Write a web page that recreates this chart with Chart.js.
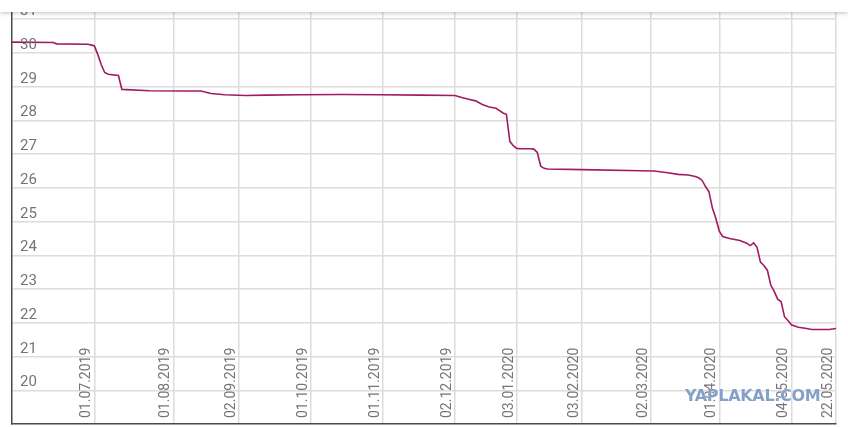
<!DOCTYPE html>
<html>
<head>
<meta charset="utf-8">
<script src="https://cdn.jsdelivr.net/npm/chart.js@4"></script>
<style>
  body { margin: 0; background: #fff; }
  #wrap { position: relative; width: 848px; height: 427px; overflow: hidden; }
  #topbar { position: absolute; left: 0; top: 0; width: 848px; height: 12px; background: #fff;
            box-shadow: 0 1px 4px rgba(0,0,0,0.25); }
  #mark { position: absolute; left: 685px; top: 386px; font: bold 16px "DejaVu Sans", sans-serif;
          color: rgba(110,145,190,0.85); letter-spacing: -0.3px;
          text-shadow: 0 0 1px #fff, 0 0 1px #fff; }
</style>
</head>
<body>
<div id="wrap">
  <canvas id="myChart" width="848" height="427"></canvas>
  <div id="topbar"></div>
  <div id="mark">YAPLAKAL.COM</div>
</div>
<script>
// trading-day index of each tick and its date
const tickIdx = [24, 47, 66, 87, 108, 129, 147, 166, 186, 206, 227, 240];
const tickLabels = ['01.07.2019', '01.08.2019', '02.09.2019', '01.10.2019', '01.11.2019', '02.12.2019',
                    '03.01.2020', '03.02.2020', '02.03.2020', '01.04.2020', '04.05.2020', '22.05.2020'];

// series: day index -> value
const dayIdx = [0, 12, 13, 22, 23, 24, 25, 26, 27, 28, 31, 32, 40, 50, 55, 58, 62, 68, 74, 84, 96, 107, 119,
                129, 130, 131, 133, 135, 137, 139, 141, 142, 143, 144, 145, 146, 147, 148, 151, 152, 153, 154,
                155, 156, 166, 183, 187, 191, 194, 197, 199, 200, 201, 202, 203, 204, 205, 206, 207, 209, 212,
                214, 215, 216, 217, 218, 219, 220, 221, 222, 223, 224, 225, 226, 227, 229, 231, 233, 236, 238, 240];
const values = [30.32, 30.31, 30.27, 30.26, 30.24, 30.21, 29.95, 29.65, 29.42, 29.37, 29.33, 28.92, 28.88,
                28.87, 28.87, 28.80, 28.76, 28.74, 28.75, 28.76, 28.77, 28.76, 28.75,
                28.74, 28.71, 28.68, 28.63, 28.58, 28.47, 28.40, 28.36, 28.29, 28.22, 28.18, 27.38, 27.25,
                27.17, 27.16, 27.16, 27.15, 27.05, 26.64,
                26.58, 26.56, 26.54, 26.51, 26.50, 26.45, 26.40, 26.38, 26.34, 26.30, 26.22, 26.04, 25.88,
                25.40, 25.10, 24.72, 24.56, 24.50, 24.44,
                24.36, 24.29, 24.37, 24.24, 23.80, 23.70, 23.56, 23.12, 22.93, 22.70, 22.63, 22.18, 22.07,
                21.94, 21.87, 21.84, 21.80, 21.80, 21.80, 21.83];

const yTicks = [20, 21, 22, 23, 24, 25, 26, 27, 28, 29, 30, 31];

// labels sit inside the plot: values above their grid line, dates rotated along the bottom
const innerLabels = {
    id: 'innerLabels',
    afterDraw(chart) {
        const {ctx, chartArea} = chart;
        const x = chart.scales.x;
        const y = chart.scales.y;
        ctx.save();
        ctx.fillStyle = '#757575';
        ctx.textAlign = 'left';
        ctx.textBaseline = 'alphabetic';

        ctx.font = '15px Roboto';
        yTicks.forEach(v => {
            ctx.fillText(String(v), chartArea.left + 8, y.getPixelForValue(v) - 4);
        });

        ctx.font = '14px Roboto';
        tickIdx.forEach((v, i) => {
            ctx.save();
            ctx.translate(x.getPixelForValue(v) - 4, chartArea.bottom - 6);
            ctx.rotate(-Math.PI / 2);
            ctx.fillText(tickLabels[i], 0, 0);
            ctx.restore();
        });
        ctx.restore();
    }
};

var config = {
    type: 'line',
    data: {
        datasets: [{
            data: dayIdx.map((d, i) => ({x: d, y: values[i]})),
            borderColor: '#a11b62',
            borderWidth: 1.6,
            pointRadius: 0,
            tension: 0,
            fill: false
        }]
    },
    options: {
        animation: false,
        responsive: false,
        layout: { padding: { left: 12, right: 12, top: 0, bottom: 3 } },
        plugins: { legend: { display: false }, tooltip: { enabled: false } },
        scales: {
            x: {
                type: 'linear',
                min: 0,
                max: 240,
                afterBuildTicks: s => { s.ticks = tickIdx.map(v => ({value: v})); },
                ticks: { display: false },
                grid: { color: '#dcdcdc', lineWidth: 1.5, drawTicks: false },
                border: { color: '#4a4a4a', width: 1.5 }
            },
            y: {
                min: 19,
                max: 31.57,
                afterBuildTicks: s => { s.ticks = yTicks.map(v => ({value: v})); },
                ticks: { display: false },
                grid: { color: '#dcdcdc', lineWidth: 1.5, drawTicks: false },
                border: { color: '#4a4a4a', width: 1.5 }
            }
        }
    },
    plugins: [innerLabels]
};

var ctx = document.getElementById('myChart').getContext('2d');
window.myLine = new Chart(ctx, config);
</script>
</body>
</html>
